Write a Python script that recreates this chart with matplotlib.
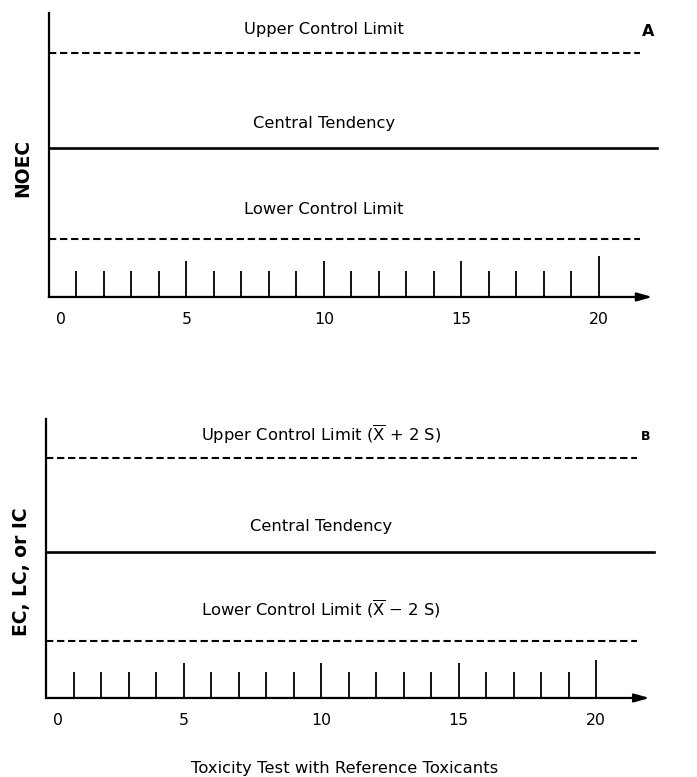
"""Control chart schematic: NOEC (A) and EC/LC/IC (B) vs reference toxicant tests."""
import matplotlib

matplotlib.use("Agg")
import matplotlib.pyplot as plt

# data
tests = list(range(1, 21))
heights_a = [9.2, 9.2, 9.2, 9.2, 12.5, 9.2, 9.2, 9.2, 9.2, 12.5,
             9.2, 9.2, 9.2, 9.2, 12.5, 9.2, 9.2, 9.2, 9.2, 14.5]
heights_b = [9.3, 9.3, 9.3, 9.3, 12.5, 9.3, 9.3, 9.3, 9.3, 12.5,
             9.3, 9.3, 9.3, 9.3, 12.5, 9.3, 9.3, 9.3, 9.3, 13.5]
ucl, central, lcl = 86, 52.5, 20.5
tick_vals = [0, 5, 10, 15, 20]
tick_labels = ["0", "5", "10", "15", "20"]

upper_a = "Upper Control Limit"
lower_a = "Lower Control Limit"
upper_b = r"Upper Control Limit ($\overline{\mathrm{X}}$ + 2 S)"
lower_b = r"Lower Control Limit ($\overline{\mathrm{X}}$ $-$ 2 S)"

FS = 11.8
XMAX = 22.2

fig = plt.figure(figsize=(6.97, 7.77), dpi=100)
ax_a = fig.add_axes([0.070, 0.6178, 0.876, 0.3655])
ax_b = fig.add_axes([0.066, 0.1017, 0.876, 0.3590])


def panel(ax, heights, upper_txt, lower_txt, offs):
    ax.set_xlim(0, XMAX)
    ax.set_ylim(0, 100)
    for s in ax.spines.values():
        s.set_visible(False)
    ax.set_yticks([])
    ax.tick_params(axis="x", length=0, labelsize=FS - 0.5, pad=11)
    ax.set_xticks([0.45] + tick_vals[1:], tick_labels)
    # axes
    ax.plot([0, 0], [0, 100], color="black", lw=1.6, clip_on=False)
    ax.annotate("", xy=(21.95, 0), xytext=(0, 0),
                arrowprops=dict(arrowstyle="-|>,head_length=0.9,head_width=0.25",
                                lw=1.6, color="black", shrinkA=0, shrinkB=0),
                annotation_clip=False)
    # test markers
    ax.vlines(tests, 0, heights, color="black", lw=1.3)
    # control lines
    ax.plot([0, 21.5], [ucl, ucl], color="black", lw=1.5, ls=(0, (3.5, 1.8)))
    ax.plot([0, 22.1], [central, central], color="black", lw=1.9, clip_on=False)
    ax.plot([0, 21.5], [lcl, lcl], color="black", lw=1.5, ls=(0, (3.5, 1.8)))
    ax.text(10.0, ucl + offs[0], upper_txt, ha="center", va="center", fontsize=FS)
    ax.text(10.0, central + offs[1], "Central Tendency", ha="center", va="center", fontsize=FS)
    ax.text(10.0, lcl + offs[2], lower_txt, ha="center", va="center", fontsize=FS)


panel(ax_a, heights_a, upper_a, lower_a, (8.3, 8.5, 10.3))
panel(ax_b, heights_b, upper_b, lower_b, (8.3, 9.0, 11.3))

fig.text(23 / 697, 1 - 168 / 777, "NOEC", rotation=90, ha="center", va="center",
         fontsize=13.5, fontweight="bold")
fig.text(22 / 697, 1 - 572 / 777, "EC, LC, or IC", rotation=90, ha="center", va="center",
         fontsize=13.5, fontweight="bold")
fig.text(648 / 697, 1 - 32 / 777, "A", ha="center", va="center", fontsize=11.5, fontweight="bold")
fig.text(646 / 697, 1 - 437 / 777, "B", ha="center", va="center", fontsize=9, fontweight="bold")
fig.text(345 / 697, 1 - 768 / 777, "Toxicity Test with Reference Toxicants",
         ha="center", va="center", fontsize=FS)

fig.savefig("out.png", dpi=100)
